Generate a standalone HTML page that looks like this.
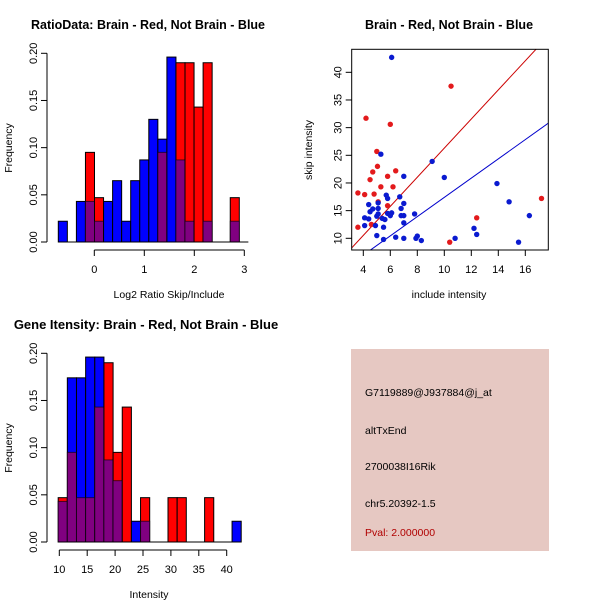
<!DOCTYPE html>
<html><head><meta charset="utf-8"><style>
body{margin:0;background:#fff}
svg{display:block;font-family:"Liberation Sans",sans-serif}
</style></head><body>
<svg id="c" width="600" height="600" viewBox="0 0 600 600">
<rect width="600" height="600" fill="#fff"/>
<text x="148" y="29" font-size="12.5" font-weight="bold" text-anchor="middle">RatioData: Brain - Red, Not Brain - Blue</text>
<text x="449" y="29" font-size="12.5" font-weight="bold" text-anchor="middle">Brain - Red, Not Brain - Blue</text>
<text x="146" y="329" font-size="13" font-weight="bold" text-anchor="middle">Gene Itensity: Brain - Red, Not Brain - Blue</text>
<text x="169" y="298" font-size="10.5" text-anchor="middle">Log2 Ratio Skip/Include</text>
<text x="449" y="298" font-size="10.5" text-anchor="middle">include intensity</text>
<text x="149" y="598" font-size="10.5" text-anchor="middle">Intensity</text>
<text transform="translate(12,148) rotate(-90)" font-size="10.5" text-anchor="middle">Frequency</text>
<text transform="translate(312,150) rotate(-90)" font-size="10.5" text-anchor="middle">skip intensity</text>
<text transform="translate(12,448) rotate(-90)" font-size="10.5" text-anchor="middle">Frequency</text>
<rect x="351" y="349" width="198" height="202" fill="#e6c8c2"/>
<g font-size="10.5">
<text x="365" y="396">G7119889@J937884@j_at</text>
<text x="365" y="434">altTxEnd</text>
<text x="365" y="470">2700038I16Rik</text>
<text x="365" y="507">chr5.20392-1.5</text>
<text x="365" y="536" fill="#b00000">Pval: 2.000000</text>
</g>
</svg>
<script>
const ratioRed=[0,0,0,0.095,0.047,0,0,0,0,0,0,0.095,0,0.19,0.19,0.143,0.19,0,0,0.047,0];
const ratioBlue=[0.022,0,0.043,0.043,0.022,0.043,0.065,0.022,0.065,0.087,0.13,0.109,0.196,0.087,0.022,0,0.022,0,0,0.022,0];
const ratioStart=-0.72, ratioBin=0.181;
const ratioXTicks=[0,1,2,3];
const freqTicks=["0.00","0.05","0.10","0.15","0.20"];
const intRed=[0.047,0.095,0.047,0.047,0.143,0.19,0.095,0.143,0,0.047,0,0,0.047,0.047,0,0,0.047,0,0,0];
const intBlue=[0.043,0.174,0.174,0.196,0.196,0.087,0.065,0,0.022,0.022,0,0,0,0,0,0,0,0,0,0.022];
const intStart=9.8, intBin=1.64;
const intXTicks=[10,15,20,25,30,35,40];
const redX=[3.6,4.1,4.2,3.6,4.5,4.6,4.7,4.8,5,5.05,5.1,5.3,5.8,5.8,6,6.2,6.4,10.5,10.4,12.4,17.2];
const redY=[18.2,17.9,31.7,12,20.6,12.5,22,18,25.7,23,16.6,19.3,21.2,15.9,30.6,19.3,22.2,37.5,9.3,13.7,17.2];
const blueX=[6.1,5.3,9.1,10,7,13.9,14.8,16.3,15.5,12.2,12.4,10.8,8,7.9,8.3,7,6.4,5.5,5,4.1,4.1,4.4,4.4,4.5,4.7,4.9,5,5.1,5.1,5.1,5.4,5.5,5.6,5.7,5.8,5.8,6,6.1,6.7,6.8,6.8,7,7,7,7.8];
const blueY=[42.7,25.2,23.9,21,21.2,19.9,16.6,14.1,9.3,11.8,10.7,10,10.4,10,9.6,10,10.2,9.8,10.5,13.7,12.3,16.1,13.5,14.8,15.3,12.3,14,14.4,15.4,16.4,13.6,12,13.4,17.8,17.2,14.5,14.1,14.6,17.5,15.4,14.1,14.1,16.3,12.8,14.4];
const redSlope=2.63, blueSlope=1.74;
const scXTicks=[4,6,8,10,12,14,16];
const scYTicks=[10,15,20,25,30,35,40];

const svg=document.getElementById('c');
const NS='http://www.w3.org/2000/svg';
function mk(t,a){const e=document.createElementNS(NS,t);for(const k in a)e.setAttribute(k,a[k]);svg.appendChild(e);return e;}

function hist(red,blue,start,bin,xs,xTicks,xTickMin,xTickMax,y0,yTop,prefix){
  const sx=v=>xs(v), sy=v=>y0-(y0-yTop)*v/0.2;
  for(let i=0;i<red.length;i++){
    const r=red[i],b=blue[i];
    const x1=sx(start+i*bin),x2=sx(start+(i+1)*bin);
    const mx=Math.max(r,b),mn=Math.min(r,b);
    if(mx<=0)continue;
    const e=mk('rect',{x:x1,y:sy(mx),width:x2-x1,height:y0-sy(mx),fill:r>=b?'#ff0000':'#0000ff',stroke:'#000','stroke-width':1});
    
    
    if(mn>0){
      const p=mk('rect',{x:x1,y:sy(mn),width:x2-x1,height:y0-sy(mn),fill:'#800080',stroke:'#000','stroke-width':1,'stroke-opacity':0.6});
      
      
    }
  }
  const bl=mk('line',{x1:sx(start),x2:sx(start+red.length*bin),y1:y0,y2:y0,stroke:'#000'});
  
  
  const ax=mk('line',{x1:47,x2:47,y1:y0,y2:yTop,stroke:'#000'});
  
  
  freqTicks.forEach(t=>{const y=sy(parseFloat(t));
    mk('line',{x1:41,x2:47,y1:y,y2:y,stroke:'#000'});
    const tx=mk('text',{transform:`translate(37,${y}) rotate(-90)`,'font-size':11,'text-anchor':'middle'});tx.textContent=t;
    
    
  });
  const xa=mk('line',{x1:sx(xTickMin),x2:sx(xTickMax),y1:y0+8,y2:y0+8,stroke:'#000'});
  
  
  xTicks.forEach(t=>{const x=sx(t);
    mk('line',{x1:x,x2:x,y1:y0+8,y2:y0+14,stroke:'#000'});
    const tx=mk('text',{x:x,y:y0+31,'font-size':11,'text-anchor':'middle'});tx.textContent=t;
    
    
  });
}
hist(ratioRed,ratioBlue,ratioStart,ratioBin,v=>94.3+50*v,ratioXTicks,0,3,242,53.3,'ratio');
hist(intRed,intBlue,intStart,intBin,v=>59.3+(v-10)*167.4/30,intXTicks,10,40,542,353.3,'intensity');

const L=351.7,R=548.3,T=49.3,B=250;
const px=v=>363.3+(v-4)*13.5, py=v=>238.3-(v-10)*5.533;
const clip=mk('clipPath',{id:'cp'});
const cr=document.createElementNS(NS,'rect');
cr.setAttribute('x',L);cr.setAttribute('y',T);cr.setAttribute('width',R-L);cr.setAttribute('height',B-T);clip.appendChild(cr);
const ix=v=>(v-363.3)/13.5+4;
const xa0=ix(L),xa1=ix(R);
const rl=mk('line',{x1:px(xa0),y1:py(redSlope*xa0),x2:px(xa1),y2:py(redSlope*xa1),stroke:'#cc0000','clip-path':'url(#cp)'});


const bl2=mk('line',{x1:px(xa0),y1:py(blueSlope*xa0),x2:px(xa1),y2:py(blueSlope*xa1),stroke:'#0000cc','clip-path':'url(#cp)'});


redX.forEach((x,i)=>{const c=mk('circle',{cx:px(x),cy:py(redY[i]),r:2.7,fill:'#e31a1c'});
  
  });
blueX.forEach((x,i)=>{const c=mk('circle',{cx:px(x),cy:py(blueY[i]),r:2.7,fill:'#0a1ad0'});
  
  });
const box=mk('rect',{x:L,y:T,width:R-L,height:B-T,fill:'none',stroke:'#000'});


scXTicks.forEach(t=>{const x=px(t);
  mk('line',{x1:x,x2:x,y1:B,y2:B+6,stroke:'#000'});
  const tx=mk('text',{x:x,y:B+23,'font-size':11,'text-anchor':'middle'});tx.textContent=t;
  
  });
scYTicks.forEach(t=>{const y=py(t);
  mk('line',{x1:L-6,x2:L,y1:y,y2:y,stroke:'#000'});
  const tx=mk('text',{transform:`translate(${L-10},${y}) rotate(-90)`,'font-size':11,'text-anchor':'middle'});tx.textContent=t;
  
  });
</script>
</body></html>
